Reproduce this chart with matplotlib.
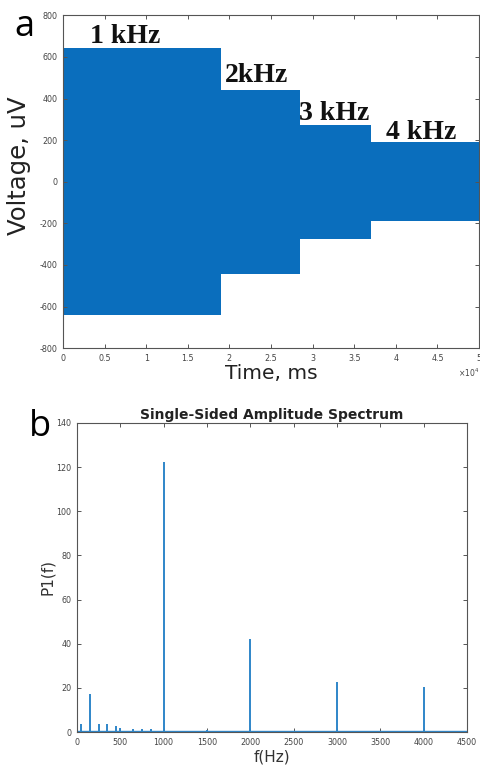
import numpy as np
import matplotlib
import matplotlib.pyplot as plt

matplotlib.use('Agg')
plt.rcParams['axes.unicode_minus'] = False

# time-domain bursts (time in units of 1e4)
seg_edges = [0.0, 1.9, 2.85, 3.7, 5.0]
seg_upper = [645, 440, 272, 190]
seg_lower = [-640, -445, -275, -190]
seg_labels = ["1 kHz", "2kHz", "3 kHz", "4 kHz"]
label_x = [0.745, 2.32, 3.26, 4.30]
label_y = [700, 512, 326, 238]

# spectrum peaks
peak_freq = [50, 150, 250, 350, 450, 500, 650, 750, 850, 1000, 1350, 1500, 2000, 3000, 4000]
peak_amp = [3.5, 17, 3.8, 3.7, 2.8, 1.6, 1.3, 1.3, 1.2, 122.3, 0.6, 1.1, 42.0, 22.6, 20.4]
baseline = 0.3

BLUE = '#0a6ebd'
SPEC_BLUE = '#2f86c9'
FRAME = '#555555'
TICK_COLOR = '#444444'


def style_axes(ax):
    for sp in ax.spines.values():
        sp.set_color(FRAME)
        sp.set_linewidth(0.8)
    ax.tick_params(direction='in', length=3, width=0.7, color=FRAME,
                   labelsize=5.8, labelcolor=TICK_COLOR, top=True, right=True, pad=4)


fig = plt.figure(figsize=(4.81, 7.67), dpi=100)

# panel a
ax1 = fig.add_axes([0.131, 0.546, 0.865, 0.434])
for i in range(len(seg_upper)):
    ax1.fill_between([seg_edges[i], seg_edges[i + 1]], seg_lower[i], seg_upper[i],
                     color=BLUE, linewidth=0)
for x, y, s in zip(label_x, label_y, seg_labels):
    ax1.text(x, y, s, ha='center', va='center', fontsize=20, fontweight='bold',
             family='Liberation Serif', color='#111111')
ax1.set_xlim(0, 5)
ax1.set_ylim(-800, 800)
ax1.set_xticks(np.arange(0, 5.01, 0.5))
ax1.set_xticklabels(['%g' % v for v in np.arange(0, 5.01, 0.5)])
ax1.set_yticks(np.arange(-800, 801, 200))
style_axes(ax1)
ax1.set_xlabel("Time, ms", fontsize=14.5, color='#222222', labelpad=1)
ax1.set_ylabel("Voltage, uV", fontsize=17.5, color='#222222')
ax1.yaxis.set_label_coords(-0.076, 0.547)
ax1.text(1.0, -0.085, r'$\times10^4$', transform=ax1.transAxes, fontsize=5.5,
         color=TICK_COLOR, ha='right')
fig.text(0.05, 0.965, "a", fontsize=26, ha='center', va='center', family='Open Sans')

# panel b
ax2 = fig.add_axes([0.160, 0.0456, 0.811, 0.403])
ax2.plot([0, 4500], [baseline, baseline], color=SPEC_BLUE, linewidth=1.0)
ax2.vlines(peak_freq, 0, peak_amp, color=SPEC_BLUE, linewidth=1.4)
ax2.set_xlim(0, 4500)
ax2.set_ylim(0, 140)
ax2.set_xticks(np.arange(0, 4501, 500))
ax2.set_yticks(np.arange(0, 141, 20))
style_axes(ax2)
ax2.set_title("Single-Sided Amplitude Spectrum", fontsize=10, fontweight='bold',
              color='#222222', pad=3)
ax2.set_xlabel("f(Hz)", fontsize=11, color='#333333', labelpad=2)
ax2.set_ylabel("P1(f)", fontsize=11, color='#333333', labelpad=1)
fig.text(0.083, 0.443, "b", fontsize=26, ha='center', va='center', family='Open Sans')

fig.savefig('out.png', dpi=100)
